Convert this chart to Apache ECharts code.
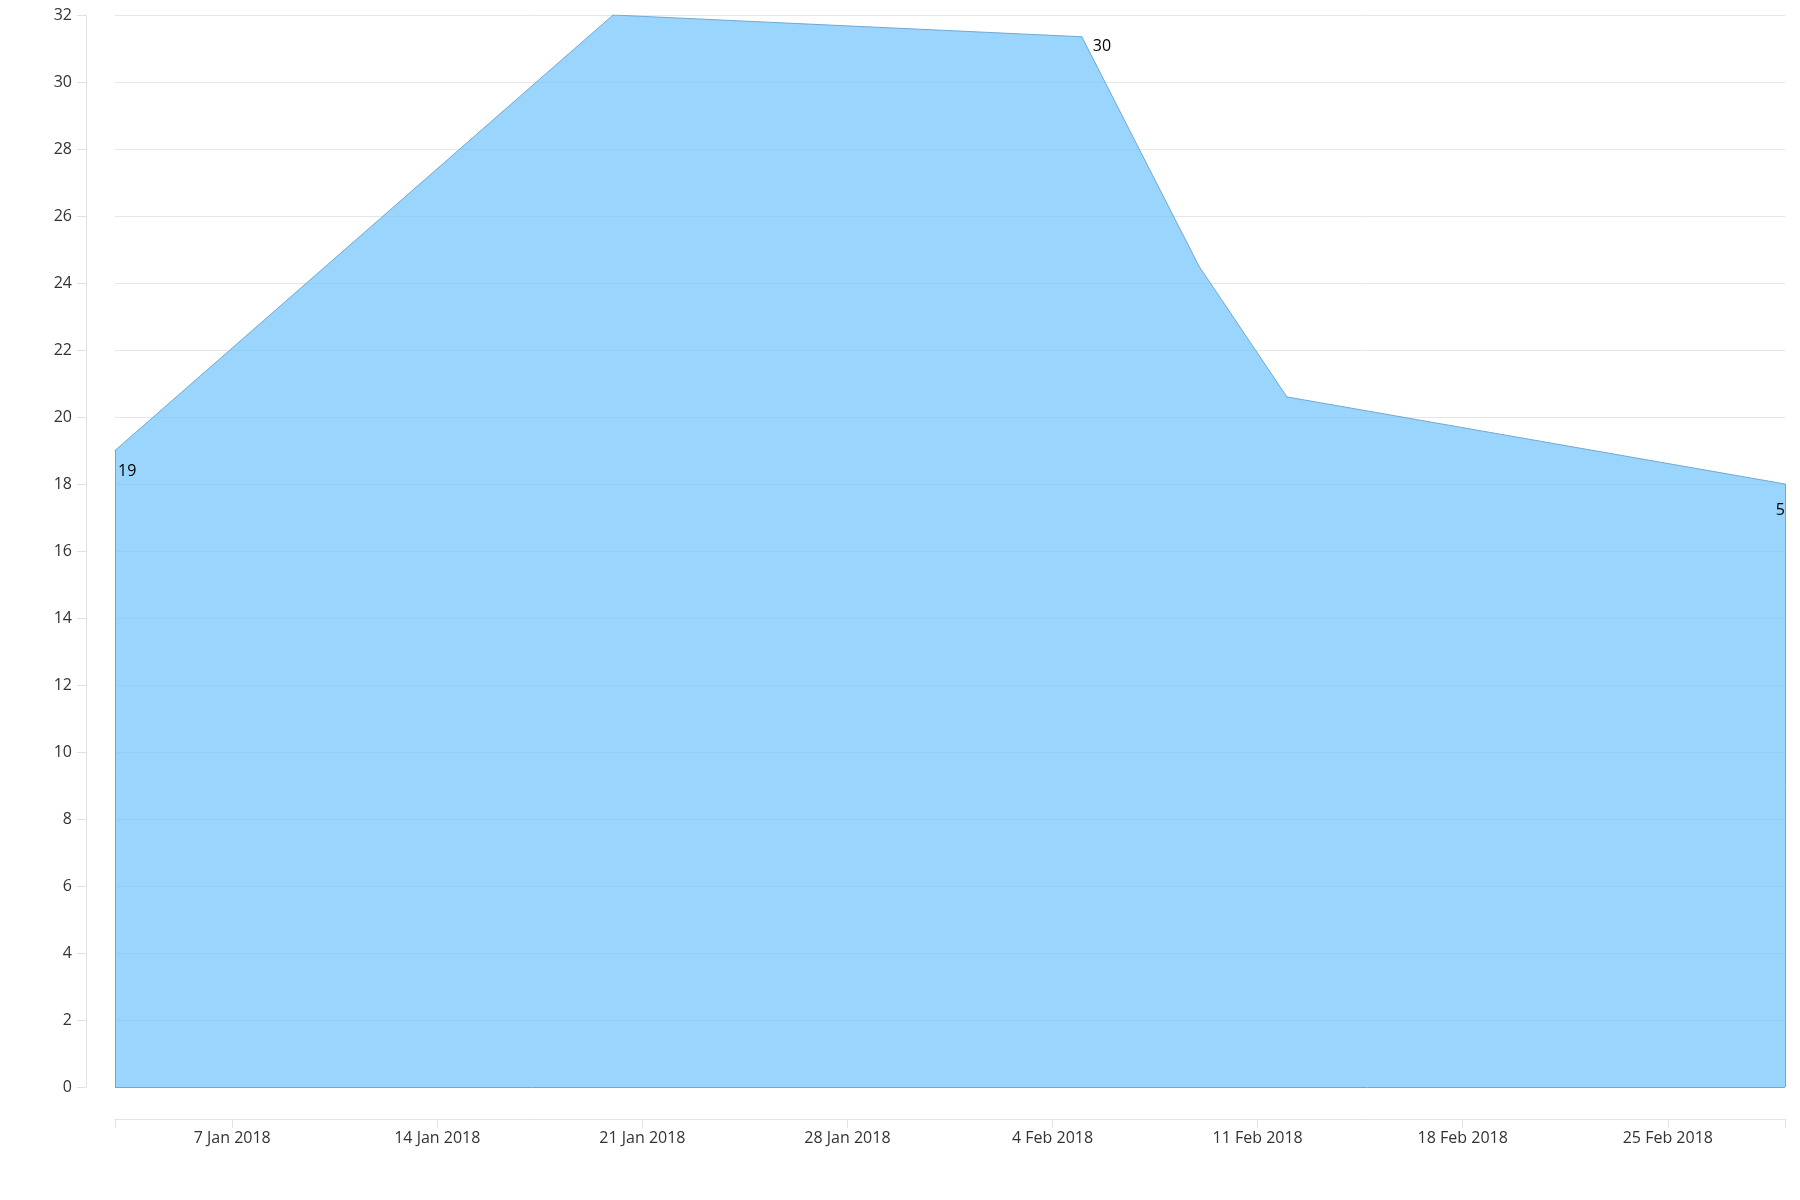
<!DOCTYPE html>
<html>
<head>
<meta charset="utf-8">
<script src="https://cdn.jsdelivr.net/npm/echarts@6/dist/echarts.min.js"></script>
<style>
html,body{margin:0;padding:0;background:#fff;}
#chart{width:1800px;height:1200px;}
</style>
</head>
<body>
<div id="chart"></div>
<script>
// ---- data ----
var pointDates = ['2018-01-03', '2018-01-20', '2018-02-05', '2018-02-09', '2018-02-12', '2018-03-01'];
var pointValues = [19, 32, 31.35, 24.5, 20.6, 18];
var pointLabels = ['19', '', '30', '', '', '5'];
var axisStart = '2018-01-03';
var axisEnd = '2018-03-01';
var weekTicks = ['2018-01-07', '2018-01-14', '2018-01-21', '2018-01-28', '2018-02-04', '2018-02-11', '2018-02-18', '2018-02-25'];
var monthNames = ['Jan', 'Feb', 'Mar', 'Apr', 'May', 'Jun', 'Jul', 'Aug', 'Sep', 'Oct', 'Nov', 'Dec'];

function ts(s) {
  var p = s.split('-');
  return new Date(+p[0], +p[1] - 1, +p[2]).getTime();
}

// label placement (style only)
var labelStyles = {
  '19': {align: 'left', offset: [3, 21]},
  '30': {align: 'left', offset: [11, 10]},
  '5': {align: 'right', offset: [0, 26]}
};

var seriesData = pointDates.map(function (d, i) {
  var item = {value: [ts(d), pointValues[i]]};
  var txt = pointLabels[i];
  if (txt) {
    var st = labelStyles[txt];
    item.label = {
      show: true,
      formatter: txt,
      position: 'inside',
      align: st.align,
      verticalAlign: 'middle',
      offset: st.offset,
      color: '#000',
      fontSize: 16,
      fontFamily: 'Open Sans',
      textBorderWidth: 0
    };
  }
  return item;
});

var minT = ts(axisStart), maxT = ts(axisEnd);
var weekT = weekTicks.map(ts);
var lineColor = 'rgb(112,168,212)';

var chart = echarts.init(document.getElementById('chart'), null, {renderer: 'canvas'});
chart.setOption({
  animation: false,
  backgroundColor: '#fff',
  textStyle: {fontFamily: 'Open Sans'},
  grid: {left: 115, right: 15, top: 15, bottom: 113, containLabel: false},
  xAxis: {
    type: 'value',
    min: minT,
    max: maxT,
    offset: 32,
    axisLine: {show: true, onZero: false, lineStyle: {color: '#e3e3e3', width: 1}},
    axisTick: {show: true, length: 9, customValues: [minT].concat(weekT, [maxT]), lineStyle: {color: '#e3e3e3'}},
    axisLabel: {
      customValues: weekT,
      margin: 11,
      color: '#333',
      fontSize: 16,
      fontFamily: 'Open Sans',
      formatter: function (v) {
        var d = new Date(v);
        return d.getDate() + ' ' + monthNames[d.getMonth()] + ' ' + d.getFullYear();
      }
    },
    splitLine: {show: false}
  },
  yAxis: {
    type: 'value',
    min: 0,
    max: 32,
    interval: 2,
    offset: 29,
    axisLine: {show: true, onZero: false, lineStyle: {color: '#e0e0e6', width: 1}},
    axisTick: {show: true, length: 9, lineStyle: {color: '#e0e0e6'}},
    axisLabel: {margin: 14, color: '#333', fontSize: 16, fontFamily: 'Open Sans'},
    splitLine: {show: true, lineStyle: {color: '#e6e6e6', width: 1}}
  },
  series: [{
    type: 'line',
    data: seriesData,
    symbol: 'circle',
    symbolSize: 1,
    showSymbol: true,
    itemStyle: {color: lineColor},
    lineStyle: {color: lineColor, width: 1},
    areaStyle: {color: 'rgb(109,195,252)', opacity: 0.7, origin: 'start'},
    markLine: {
      silent: true,
      symbol: 'none',
      label: {show: false},
      lineStyle: {color: lineColor, width: 1, type: 'solid'},
      data: [
        [{coord: [ts(pointDates[0]), 0]}, {coord: [ts(pointDates[pointDates.length - 1]), 0]}],
        [{coord: [ts(pointDates[0]), 0]}, {coord: [ts(pointDates[0]), pointValues[0]]}],
        [{coord: [ts(pointDates[pointDates.length - 1]), 0]}, {coord: [ts(pointDates[pointDates.length - 1]), pointValues[pointValues.length - 1]]}]
      ]
    }
  }]
});
</script>
</body>
</html>
